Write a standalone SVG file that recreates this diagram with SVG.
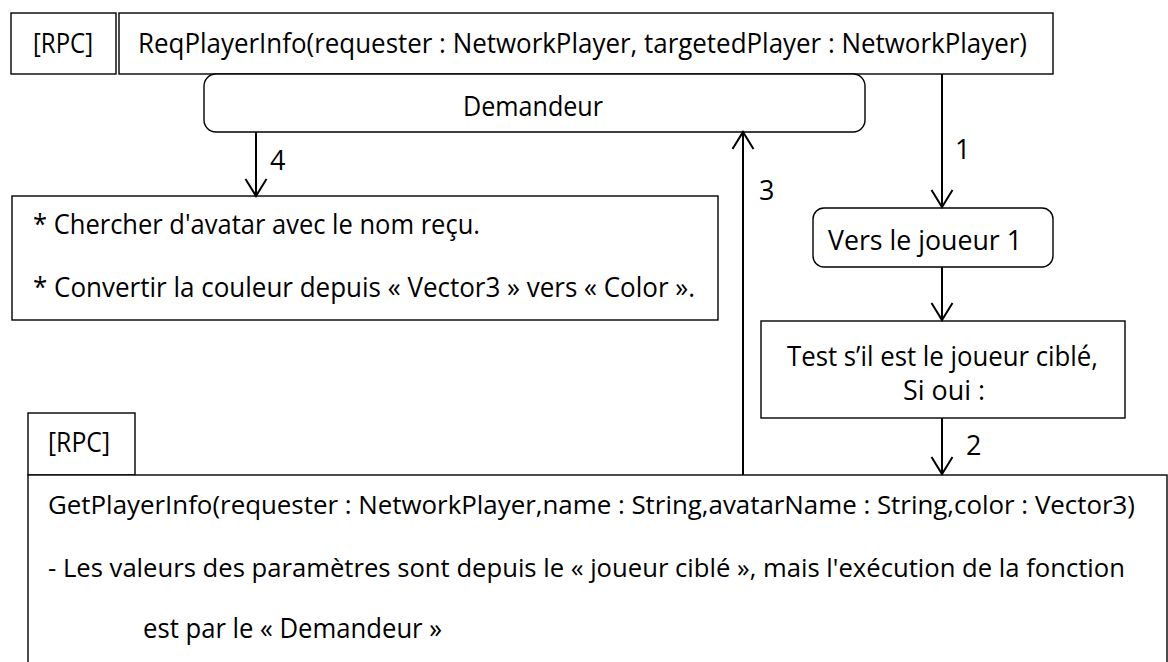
<svg xmlns="http://www.w3.org/2000/svg" width="1168" height="662" viewBox="0 0 1168 662">
<style>
.box{fill:#fff;stroke:#000;stroke-width:1.4}
.t{font-family:"Open Sans","Liberation Sans",sans-serif;font-size:27px;fill:#000}
.long{font-size:25px}
.conn{stroke:#000;stroke-width:2;fill:none;marker-end:url(#arr)}
</style>
<defs>
<marker id="arr" markerUnits="userSpaceOnUse" markerWidth="30" markerHeight="30" viewBox="-20 -15 25 30" refX="0" refY="0" orient="auto">
<path d="M -17 -10.5 L 0 0 L -17 10.5" fill="none" stroke="#000" stroke-width="2"/>
</marker>
</defs>
<rect width="1168" height="662" fill="#fff"/>
<g id="rpc1">
<rect class="box" x="11" y="13" width="105" height="61"/>
<text class="t" x="33" y="53" textLength="60" lengthAdjust="spacingAndGlyphs">[RPC]</text>
</g>
<g id="reqPlayerInfo">
<rect class="box" x="119" y="13" width="934" height="61"/>
<text class="t" x="138" y="53" textLength="889" lengthAdjust="spacingAndGlyphs">ReqPlayerInfo(requester : NetworkPlayer, targetedPlayer : NetworkPlayer)</text>
</g>
<g id="demandeur">
<rect class="box" x="204" y="74" width="661" height="58" rx="12"/>
<text class="t" x="463" y="116" textLength="140" lengthAdjust="spacingAndGlyphs">Demandeur</text>
</g>
<g id="actions">
<rect class="box" x="12" y="196" width="706" height="124"/>
<text class="t" x="33" y="234" textLength="447" lengthAdjust="spacingAndGlyphs">* Chercher d'avatar avec le nom reçu.</text>
<text class="t" x="33" y="297" textLength="662" lengthAdjust="spacingAndGlyphs">* Convertir la couleur depuis « Vector3 » vers « Color ».</text>
</g>
<g id="versJoueur">
<rect class="box" x="813" y="208" width="240" height="59" rx="11"/>
<text class="t" x="828" y="250" textLength="194" lengthAdjust="spacingAndGlyphs">Vers le joueur 1</text>
</g>
<g id="test">
<rect class="box" x="761" y="321" width="364" height="97"/>
<text class="t" x="787" y="366" textLength="311" lengthAdjust="spacingAndGlyphs">Test s’il est le joueur ciblé,</text>
<text class="t" x="903" y="400" textLength="82" lengthAdjust="spacingAndGlyphs">Si oui :</text>
</g>
<g id="rpc2">
<rect class="box" x="28" y="413" width="107" height="62"/>
<text class="t" x="48" y="452" textLength="62" lengthAdjust="spacingAndGlyphs">[RPC]</text>
</g>
<g id="getPlayerInfo">
<rect class="box" x="28" y="475" width="1139" height="200"/>
<text class="t long" x="48" y="514" textLength="1087" lengthAdjust="spacingAndGlyphs">GetPlayerInfo(requester : NetworkPlayer,name : String,avatarName : String,color : Vector3)</text>
<text class="t long" x="48" y="577" textLength="1077" lengthAdjust="spacingAndGlyphs">- Les valeurs des paramètres sont depuis le « joueur ciblé », mais l'exécution de la fonction</text>
<text class="t" x="143" y="638" textLength="299" lengthAdjust="spacingAndGlyphs">est par le « Demandeur »</text>
</g>
<g id="connectors">
<line class="conn" x1="256" y1="132" x2="256" y2="196"/>
<line class="conn" x1="743" y1="475" x2="743" y2="132"/>
<line class="conn" x1="942" y1="74" x2="942" y2="207"/>
<line class="conn" x1="942" y1="267" x2="942" y2="320"/>
<line class="conn" x1="942" y1="418" x2="942" y2="474"/>
<text class="t" x="270" y="170">4</text>
<text class="t" x="759" y="200">3</text>
<text class="t" x="955" y="159">1</text>
<text class="t" x="966" y="455">2</text>
</g>
</svg>
